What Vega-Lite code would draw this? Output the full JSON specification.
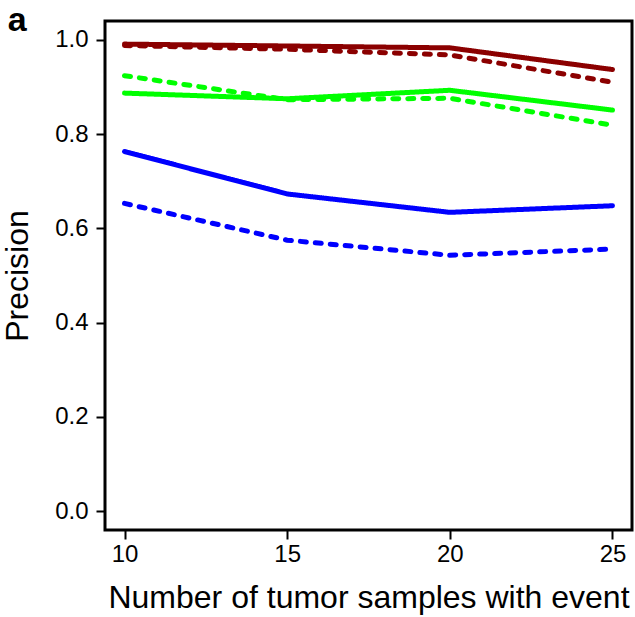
{
  "$schema": "https://vega.github.io/schema/vega-lite/v6.json",
  "autosize": "none",
  "width": 527,
  "height": 509,
  "padding": {"left": 105, "top": 21, "right": 3, "bottom": 87},
  "background": "white",
  "title": {"text": "a", "anchor": "start", "frame": "bounds", "fontSize": 34, "fontWeight": "bold", "font": "Liberation Sans", "color": "black", "offset": -22, "dx": 6, "dy": 29, "baseline": "bottom"},
  "config": {
    "view": {"stroke": "black", "strokeWidth": 3},
    "axis": {"domain": false, "grid": false, "tickColor": "black", "tickWidth": 2, "tickSize": 9, "labelFont": "Liberation Sans", "labelFontSize": 24, "labelColor": "black", "titleFont": "Liberation Sans", "titleFontSize": 32, "titleFontWeight": "normal", "titleColor": "black"}
  },
  "data": {"values": [
    {"x": 10, "precision": 0.991, "group": "red", "type": "solid"},
    {"x": 15, "precision": 0.987, "group": "red", "type": "solid"},
    {"x": 20, "precision": 0.983, "group": "red", "type": "solid"},
    {"x": 25, "precision": 0.937, "group": "red", "type": "solid"},
    {"x": 10, "precision": 0.988, "group": "red", "type": "dashed"},
    {"x": 15, "precision": 0.980, "group": "red", "type": "dashed"},
    {"x": 20, "precision": 0.968, "group": "red", "type": "dashed"},
    {"x": 25, "precision": 0.910, "group": "red", "type": "dashed"},
    {"x": 10, "precision": 0.887, "group": "green", "type": "solid"},
    {"x": 15, "precision": 0.875, "group": "green", "type": "solid"},
    {"x": 20, "precision": 0.893, "group": "green", "type": "solid"},
    {"x": 25, "precision": 0.851, "group": "green", "type": "solid"},
    {"x": 10, "precision": 0.924, "group": "green", "type": "dashed"},
    {"x": 15, "precision": 0.873, "group": "green", "type": "dashed"},
    {"x": 20, "precision": 0.876, "group": "green", "type": "dashed"},
    {"x": 25, "precision": 0.819, "group": "green", "type": "dashed"},
    {"x": 10, "precision": 0.763, "group": "blue", "type": "solid"},
    {"x": 15, "precision": 0.673, "group": "blue", "type": "solid"},
    {"x": 20, "precision": 0.634, "group": "blue", "type": "solid"},
    {"x": 25, "precision": 0.648, "group": "blue", "type": "solid"},
    {"x": 10, "precision": 0.653, "group": "blue", "type": "dashed"},
    {"x": 15, "precision": 0.575, "group": "blue", "type": "dashed"},
    {"x": 20, "precision": 0.543, "group": "blue", "type": "dashed"},
    {"x": 25, "precision": 0.556, "group": "blue", "type": "dashed"}
  ]},
  "mark": {"type": "line", "strokeWidth": 5, "strokeCap": "round", "clip": true},
  "encoding": {
    "x": {"field": "x", "type": "quantitative", "scale": {"domain": [9.4, 25.6], "nice": false, "zero": false},
      "axis": {"values": [10, 15, 20, 25], "title": "Number of tumor samples with event", "titlePadding": 16, "labelPadding": 3}},
    "y": {"field": "precision", "type": "quantitative", "scale": {"domain": [-0.04, 1.04], "nice": false},
      "axis": {"values": [0, 0.2, 0.4, 0.6, 0.8, 1.0], "format": ".1f", "title": "Precision", "titlePadding": 20, "labelPadding": 8}},
    "color": {"field": "group", "type": "nominal", "legend": null,
      "scale": {"domain": ["red", "green", "blue"], "range": ["#8B0000", "#00FF00", "#0000FF"]}},
    "strokeDash": {"field": "type", "type": "nominal", "legend": null,
      "scale": {"domain": ["solid", "dashed"], "range": [[1, 0], [6, 9]]}},
    "detail": {"field": "type"}
  }
}
